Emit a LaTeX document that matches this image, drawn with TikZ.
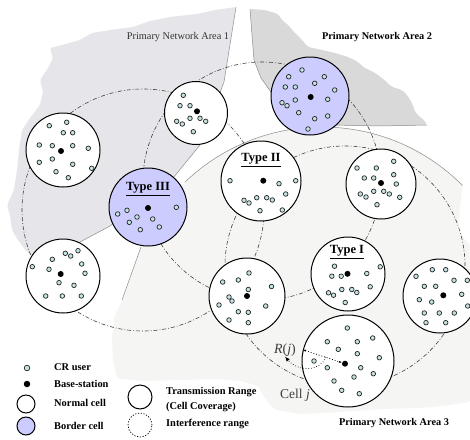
\documentclass[tikz,border=0pt]{standalone}
\usepackage{fontspec}
\setmainfont{Liberation Serif}
\usetikzlibrary{arrows.meta}
\definecolor{zoneA}{HTML}{E6E6EA}
\definecolor{zoneB}{HTML}{D9D9D9}
\definecolor{zoneC}{HTML}{F5F5F4}
\definecolor{bordC}{HTML}{CCCCFF}
\definecolor{userC}{HTML}{C4E2E2}
\tikzset{
  normcell/.style={circle, draw=black, line width=1pt, fill=white, minimum size=#1, inner sep=0pt},
  bordcell/.style={normcell=#1, fill=bordC},
  cruser/.style={circle, draw=black!85, line width=0.7pt, fill=userC, minimum size=4.6pt, inner sep=0pt},
  bstation/.style={circle, fill=black, minimum size=6pt, inner sep=0pt},
  intf/.style={line width=0.6pt, draw=black!75, dash pattern=on 4pt off 2pt on 0.8pt off 2pt},
  zoneline/.style={line width=0.5pt, draw=black!45},
  typelab/.style={font=\fontsize{12.5}{14}\selectfont\bfseries, inner sep=1pt},
  legtext/.style={font=\fontsize{10.4}{15}\selectfont\bfseries, anchor=west, align=left, inner sep=0pt},
  zonelab/.style={font=\fontsize{10.3}{12}\selectfont, inner sep=1pt},
  rarrow/.style={{Latex[length=3pt]}-{Latex[length=3pt]}, dotted, line width=0.8pt},
  carrow/.style={-{Latex[length=5pt,width=4pt]}, dotted, line width=0.7pt},
}
\begin{document}
\begin{tikzpicture}[x=1pt,y=-1pt]
  \useasboundingbox (0,0) rectangle (470,439);
  \fill[white] (0,0) rectangle (470,439);

  \fill[zoneA, rounded corners=2pt] (236,7) -- (224,82) -- (200,145) -- (173,178) -- (110,226) -- (80,242)
    -- (45,262) -- (27,252) -- (18,240) -- (12,230) -- (10,215) -- (7,205) -- (14,190) -- (17,170)
    -- (19,150) -- (22,130) -- (30,118) -- (40,105) -- (43,92) -- (40,80) -- (48,68) -- (53,58)
    -- (50,48) -- (62,45) -- (80,40) -- (92,33) -- (110,30) -- (133,27) -- (150,21) -- (170,17)
    -- (197,14) -- (215,10) -- cycle;
  \fill[zoneB, rounded corners=2pt] (250,9) -- (252,35) -- (254,60) -- (261,78) -- (271,92) -- (333,125)
    -- (380,126) -- (427,125) -- (425,121) -- (420,117) -- (415,112) -- (412,103) -- (407,95)
    -- (402,90) -- (392,87) -- (382,78) -- (375,73) -- (363,67) -- (358,62) -- (348,57) -- (335,53)
    -- (322,50) -- (308,47) -- (302,40) -- (295,33) -- (288,25) -- (282,20) -- (278,14) -- (265,10) -- cycle;
  \fill[zoneC, rounded corners=2pt] (141,247) -- (122,300) -- (114,318) -- (112,340) -- (113,360) -- (117,378)
    -- (140,381) -- (180,380) -- (220,379) -- (242,381) -- (258,386) -- (265,398) -- (275,410)
    -- (300,414) -- (340,412) -- (380,409) -- (420,408) -- (450,405) -- (470,402) -- (470,245)
    -- (462,236) -- (456,228) -- (459,222) -- (460,207) -- (462.5,185.5)
    arc[start angle=44.8, end angle=133.8, radius=198pt] -- cycle;

  \draw[zoneline] (236,7) -- (224,82) -- (200,145) -- (173,178) -- (110,226) -- (80,242);
  \draw[zoneline] (250,9) -- (252,35) -- (254,60) -- (261,78) -- (271,92);
  \draw[zoneline] (333,125) -- (380,126) -- (427,125);
  \draw[zoneline] (462.5,185.5) arc[start angle=44.8, end angle=133.8, radius=198pt];
  \draw[zoneline] (141,247) -- (122,300);

  \draw[intf] (143,210) circle (121pt);
  \draw[intf] (262,181) circle (119pt);
  \draw[intf] (345,266) circle (120pt);

  \node[normcell=74pt] (c1) at (63,150) {};
  \node[normcell=63pt] (c2) at (196,113) {};
  \node[bordcell=78pt] (c3) at (148,207) {};
  \node[bordcell=78pt] (c4) at (310,96) {};
  \node[normcell=80pt] (c5) at (261,181) {};
  \node[normcell=70pt] (c6) at (381,184) {};
  \node[normcell=74pt] (c7) at (63,276) {};
  \node[normcell=76pt] (c8) at (247,296) {};
  \node[normcell=74pt] (c9) at (348,274) {};
  \node[normcell=74pt] (c10) at (440,296) {};
  \node[normcell=92pt] (c11) at (348,361) {};

  \foreach \dx/\dy [count=\i] in {-13.7/-24.3, 3.7/-27.7, 0.3/-17.3, 9.7/-17.3, -23.7/-5, -10.7/-4.3,
      9.7/-4.3, 25.3/-1.7, -23.7/12.3, -10.7/9, 9.7/14.3, 28.7/18.3, -7/21.7, 5.3/27.7}
    \node[cruser] (c1u\i) at ([shift={(\dx,\dy)}]c1) {};
  \foreach \dx/\dy [count=\i] in {-12.7/-17.7, -16/-7.3, -6/-7.3, -19.3/8.3, -13.7/11, -6/5.3,
      4/5.3, 9.7/8.3, -2.7/18.7}
    \node[cruser] (c2u\i) at ([shift={(\dx,\dy)}]c2) {};
  \foreach \dx/\dy [count=\i] in {-30.3/7, -21/3.3, -11/10, -18.7/15.3, -7.7/22.7, 4.7/12,
      11.3/20, 28.3/0.3}
    \node[cruser] (c3u\i) at ([shift={(\dx,\dy)}]c3) {};
  \foreach \dx/\dy [count=\i] in {-8/-26, -21.3/-19.3, 14.3/-19.3, 4.7/-12.7, -24.7/-9, -14.7/-9,
      24.7/-6, -14.7/4, 17.7/3.3, -28/6.7, -23/9.7, -11.3/16.7, 4.7/22.7, 17.7/20, -2/33}
    \node[cruser] (c4u\i) at ([shift={(\dx,\dy)}]c4) {};
  \foreach \dx/\dy [count=\i] in {-31/-0.3, 18/2.7, 34.7/-0.3, 24.7/13, -17/19.3, -12/22,
      -4.3/16.7, 5.7/16.7, 11.3/19, -1/29.7, 21.3/29}
    \node[cruser] (c5u\i) at ([shift={(\dx,\dy)}]c5) {};
  \foreach \dx/\dy [count=\i] in {-24/-16, -4.7/-16, 12.7/-22.7, -16.7/-6, -7.3/-6, 12.7/-9.3,
      15.3/0, -20.7/10, -15/13, -7.3/7.3, 2.7/7.3, 8.3/10, 18.7/13.3, -4/20.7}
    \node[cruser] (c6u\i) at ([shift={(\dx,\dy)}]c6) {};
  \foreach \dx/\dy [count=\i] in {-30.7/-9.3, -10.7/-16.7, 2.3/-22.7, 7.7/-20, 15/-25.3, 18.7/-12,
      -14/-6.7, 22/-2.7, -4/6.7, 11/9.3, -17.3/20, -0.7/20, 18.3/20}
    \node[cruser] (c7u\i) at ([shift={(\dx,\dy)}]c7) {};
  \foreach \dx/\dy [count=\i] in {-24.3/-14, -8.7/-16, 2/-23, 24.5/-9.5, 1.3/-6.5, -18/1, -15/5,
      -28/9, -18/24, 18.7/10, 1.3/16.3, 1.3/26.7, -8.7/15.7}
    \node[cruser] (c8u\i) at ([shift={(\dx,\dy)}]c8) {};
  \foreach \dx/\dy [count=\i] in {-13.5/-7.8, -16.2/2.2, -6.8/2.2, 18.8/-0.5, 32.2/-7.2, 22.2/12.8,
      -19.5/18.8, -14.5/21.2, -6.2/15.5, 3.8/15.5, 8.8/18.5, -2.8/28.5}
    \node[cruser] (c9u\i) at ([shift={(\dx,\dy)}]c9) {};
  \foreach \dx/\dy [count=\i] in {-24/-19.7, -7.7/-26.3, 5.7/-26.3, 14/-15.7, 27.3/-15.7, -15.7/-9.7,
      -4.3/-9.7, 21.7/-1.7, -20.7/3.7, -8.3/6, 27.7/10, -15.7/17, -0.7/17, 14.3/17, -14/26.7, 5.7/26.7}
    \node[cruser] (c10u\i) at ([shift={(\dx,\dy)}]c10) {};
  \foreach \dx/\dy [count=\i] in {-0.7/-33, -20.7/-19.3, 9.3/-19.3, 24.7/-23, -9.7/-11.7, 9.3/-7.3,
      31.3/-3.3, -34/0, -20.7/6.7, 12.7/6.7, 25.3/12.7, 6/16, -14/20, -6.3/29.3, 11.3/32.7}
    \node[cruser] (c11u\i) at ([shift={(\dx,\dy)}]c11) {};

  \node[bstation] (c1b) at ([shift={(-2,1)}]c1) {};
  \node[bstation] (c2b) at ([shift={(1,-1.7)}]c2) {};
  \node[bstation] (c3b) at ([shift={(0,1)}]c3) {};
  \node[bstation] (c4b) at ([shift={(0.7,1)}]c4) {};
  \node[bstation] (c5b) at ([shift={(2.3,-0.3)}]c5) {};
  \node[bstation] (c6b) at ([shift={(0,-1)}]c6) {};
  \node[bstation] (c7b) at ([shift={(-2.3,-2)}]c7) {};
  \node[bstation] (c8b) at (c8) {};
  \node[bstation] (c9b) at ([shift={(-0.5,-0.2)}]c9) {};
  \node[bstation] (c10b) at ([shift={(3.3,-0.7)}]c10) {};
  \node[bstation] (c11b) at ([shift={(-3,2.7)}]c11) {};

  \node[typelab] (t3) at ([shift={(0,-18)}]c3) {\underline{Type III}};
  \node[typelab] (t2) at ([shift={(0,-21)}]c5) {\underline{Type II}};
  \node[typelab] (t1) at ([shift={(-1,-22)}]c9) {\underline{Type I}};

  \node[zonelab, text=black!80] (z1) at (178,37) {Primary Network Area 1};
  \node[zonelab, font=\fontsize{10.3}{12}\selectfont\bfseries] (z2) at (377,37) {Primary Network Area 2};
  \node[zonelab, font=\fontsize{10.3}{12}\selectfont\bfseries] (z3) at (394,423) {Primary Network Area 3};

  \node[font=\fontsize{14}{16}\selectfont, text=black!75, inner sep=0pt] (rj) at (285,350) {\textit{R}(\textit{j})};
  \node[font=\fontsize{13.5}{16}\selectfont, text=black!75, inner sep=0pt] (cj) at (295,395) {Cell \textit{j}};
  \coordinate (jarc) at (326,357);
  \draw[rarrow] (c11.166) -- (c11b);
  \draw[carrow] (jarc) .. controls (320,372) and (298,372) .. (rj.south);

  \node[cruser, minimum size=5.6pt] (lu) at (27,368) {};
  \node[bstation, minimum size=6.5pt] (lb) at (27,384) {};
  \node[normcell=18pt] (ln) at (26,404) {};
  \node[bordcell=18pt] (lr) at (26,426) {};
  \node[normcell=24pt] (lt) at (140,397) {};
  \node[circle, draw=black, line width=0.7pt, dash pattern=on 1.2pt off 1.6pt, minimum size=24pt] (li) at (140,425) {};
  \node[legtext] (lut) at (54,367.5) {CR user};
  \node[legtext] (lbt) at (54,384) {Base-station};
  \node[legtext] (lnt) at (54,403) {Normal cell};
  \node[legtext] (lrt) at (54,425.5) {Border cell};
  \node[legtext] (ltt) at (166,399.5) {Transmission Range\\(Cell Coverage)};
  \node[legtext] (lit) at (166,424) {Interference range};
\end{tikzpicture}
\end{document}
